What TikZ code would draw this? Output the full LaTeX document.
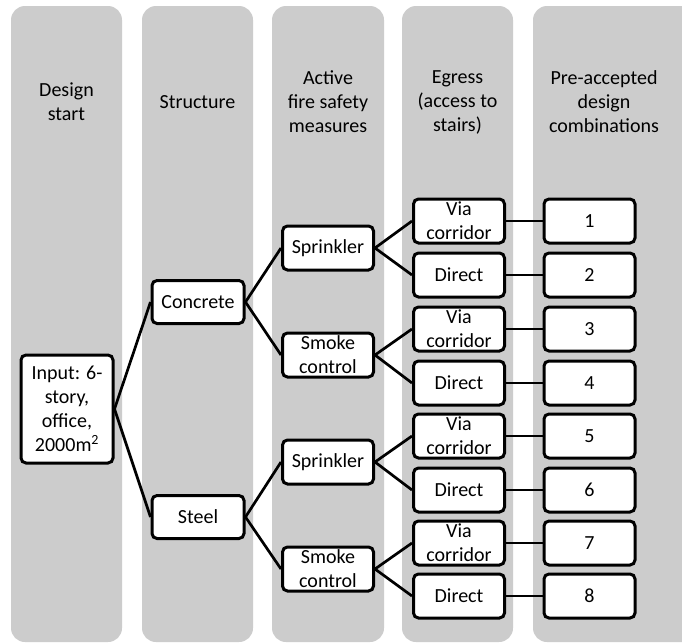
\documentclass[tikz,border=0pt]{standalone}
\usepackage{fontspec}
\setmainfont{Carlito}
\usetikzlibrary{positioning}

\definecolor{lanegray}{RGB}{204,204,204}

\tikzset{
  lane/.style={fill=lanegray, draw=none, rounded corners=14pt},
  lanehead/.style={align=center, inner sep=0pt, font=\fontsize{20}{24}\selectfont},
  choice/.style={draw, line width=3pt, fill=white, rounded corners=5pt,
    align=center, inner sep=0pt, minimum width=91pt, minimum height=44pt,
    font=\fontsize{20}{24}\selectfont},
  link/.style={line width=2.7pt},
}

\begin{document}
\begin{tikzpicture}[x=1pt, y=-1pt]
\clip (0,0) rectangle (682,643);
\fill[white] (0,0) rectangle (682,643);

% Lanes
\fill[lane] (11,6) rectangle (122,642);
\fill[lane] (142,6) rectangle (253,642);
\fill[lane] (272,6) rectangle (384,642);
\fill[lane] (402,6) rectangle (513,642);
\fill[lane] (533,6) rectangle (700,642);

% Lane headings
\node[lanehead] (hstart) at (66.5,101.5) {Design\\start};
\node[lanehead] (hstruct) at (197.5,102) {Structure};
\node[lanehead] (hactive) at (328,102) {Active\\fire safety\\measures};
\node[lanehead] (hegress) at (457.5,102) {Egress\\(access to\\stairs)};
\node[lanehead] (hcombo) at (604,102) {Pre-accepted\\design\\combinations};

% Input
\node[choice, minimum width=92pt, minimum height=108pt] (input) at (67,409)
  {Input: 6-\\story,\\office,\\2000m\textsuperscript{2}};

% Structure
\node[choice, minimum width=92pt, minimum height=43pt] (concrete) at (198,302) {Concrete};
\node[choice, minimum width=92pt, minimum height=43pt] (steel) at (198,517) {Steel};

% Active fire safety measures
\node[choice] (spr1) at (328,248) {Sprinkler};
\node[choice] (smk1) at (328,355) {Smoke\\control};
\node[choice] (spr2) at (328,462) {Sprinkler};
\node[choice] (smk2) at (328,569) {Smoke\\control};

% Egress and combinations
\foreach \i/\y/\txt in {1/221/{Via\\corridor}, 2/275/Direct, 3/329/{Via\\corridor}, 4/383/Direct,
                        5/436/{Via\\corridor}, 6/490/Direct, 7/543/{Via\\corridor}, 8/596/Direct} {
  \node[choice] (eg\i) at (459,\y) {\txt};
  \node[choice] (comb\i) at (589.5,\y) {\i};
  \draw[link] (eg\i.east) -- (comb\i.west);
}

% Connectors
\draw[link] (input.east) -- (concrete.west);
\draw[link] (input.east) -- (steel.west);
\draw[link] (concrete.east) -- (spr1.west);
\draw[link] (concrete.east) -- (smk1.west);
\draw[link] (steel.east) -- (spr2.west);
\draw[link] (steel.east) -- (smk2.west);
\draw[link] (spr1.east) -- (eg1.west);
\draw[link] (spr1.east) -- (eg2.west);
\draw[link] (smk1.east) -- (eg3.west);
\draw[link] (smk1.east) -- (eg4.west);
\draw[link] (spr2.east) -- (eg5.west);
\draw[link] (spr2.east) -- (eg6.west);
\draw[link] (smk2.east) -- (eg7.west);
\draw[link] (smk2.east) -- (eg8.west);

\end{tikzpicture}
\end{document}
